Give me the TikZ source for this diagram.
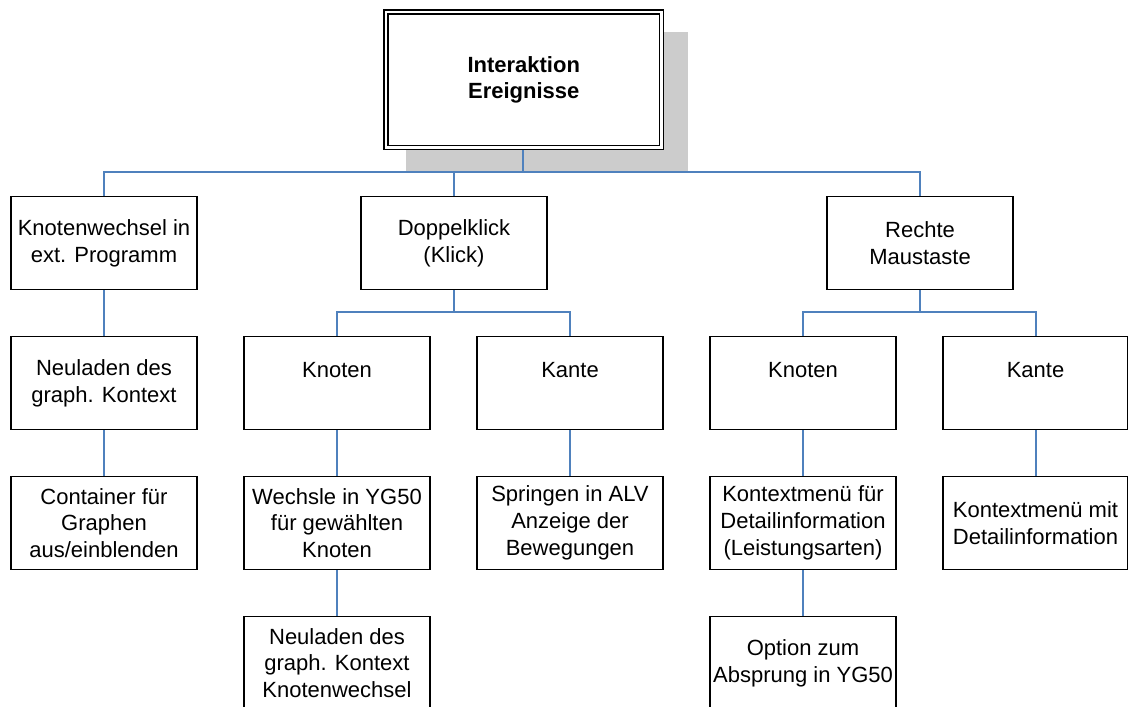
\documentclass[tikz,border=0pt]{standalone}
\usepackage{fontspec}
\setmainfont{Liberation Sans}
\usetikzlibrary{positioning}
\definecolor{linkblue}{RGB}{79,129,189}
\definecolor{shadowgray}{RGB}{204,204,204}
\pgfdeclarelayer{shadowlayer}
\pgfdeclarelayer{linklayer}
\pgfsetlayers{shadowlayer,linklayer,main}
\begin{document}
\begin{tikzpicture}[x=1pt,y=-1pt,
  box/.style={draw=black, fill=white, line width=1.5pt, rectangle,
    minimum width=186pt, minimum height=93pt, inner sep=0pt, outer sep=0pt,
    align=center, font=\fontsize{22}{26.7}\selectfont},
  rootbox/.style={draw=black, fill=white, line width=1.5pt, double=white,
    double distance=2.5pt, rectangle, minimum width=275.5pt, minimum height=135.5pt,
    inner sep=0pt, outer sep=0pt, align=center,
    font=\fontsize{22}{26.7}\selectfont\bfseries},
  link/.style={draw=linkblue, line width=1.4pt}]
  \useasboundingbox (0,0) rectangle (1128,707);
  \clip (0,0) rectangle (1128,707);

  % root
  \node[rootbox] (root) at (523.75,79.75) {Interaktion\\Ereignisse};

  % first level
  \node[box] (ext)   at (104,243) {Knotenwechsel in\\ext. Programm};
  \node[box] (dbl)   at (454,243) {Doppelklick\\(Klick)};
  \node[box] (rmt)   at (920,243) {Rechte\\Maustaste};

  % second level (single-line labels sit on the upper line)
  \node[box] (reload) at (104,383) {Neuladen des\\graph. Kontext};
  \node[box] (dknot)  at (337,383) {Knoten\\\mbox{}};
  \node[box] (dkante) at (570,383) {Kante\\\mbox{}};
  \node[box] (rknot)  at (803,383) {Knoten\\\mbox{}};
  \node[box, minimum width=185pt] (rkante) at (1035.5,383) {Kante\\\mbox{}};

  % third level
  \node[box] (cont)   at (104,523) {Container für\\Graphen\\aus/einblenden};
  \node[box] (wyg)    at (337,523) {Wechsle in YG50\\für gewählten\\Knoten};
  \node[box] (alv)    at (570,523) {Springen in ALV\\Anzeige der\\Bewegungen};
  \node[box] (kmfuer) at (803,523) {Kontextmenü für\\Detailinformation\\(Leistungsarten)};
  \node[box, minimum width=185pt] (kmmit) at (1035.5,523) {Kontextmenü mit\\Detailinformation};

  % fourth level
  \node[box] (reload2) at (337,663) {Neuladen des\\graph. Kontext\\Knotenwechsel};
  \node[box] (option)  at (803,663) {Option zum\\Absprung in YG50};

  % drop shadow of the root box
  \begin{pgfonlayer}{shadowlayer}
    \fill[shadowgray] (406,32) rectangle (688,172);
  \end{pgfonlayer}

  % connectors
  \begin{pgfonlayer}{linklayer}
    \coordinate (bus0) at (523,172);
    \draw[link] (root.south -| bus0) -- (bus0);
    \draw[link] (bus0) -| (ext.north);
    \draw[link] (bus0) -| (dbl.north);
    \draw[link] (bus0) -| (rmt.north);

    \draw[link] (ext.south) -- (reload.north);
    \draw[link] (reload.south) -- (cont.north);

    \coordinate (bus1) at (454,312);
    \draw[link] (dbl.south) -- (bus1);
    \draw[link] (bus1) -| (dknot.north);
    \draw[link] (bus1) -| (dkante.north);
    \draw[link] (dknot.south) -- (wyg.north);
    \draw[link] (wyg.south) -- (reload2.north);
    \draw[link] (dkante.south) -- (alv.north);

    \coordinate (bus2) at (920,312);
    \draw[link] (rmt.south) -- (bus2);
    \draw[link] (bus2) -| (rknot.north);
    \draw[link] (bus2) -| ([xshift=0.5pt]rkante.north);
    \draw[link] (rknot.south) -- (kmfuer.north);
    \draw[link] (kmfuer.south) -- (option.north);
    \draw[link] ([xshift=0.5pt]rkante.south) -- ([xshift=0.5pt]kmmit.north);
  \end{pgfonlayer}
\end{tikzpicture}
\end{document}
